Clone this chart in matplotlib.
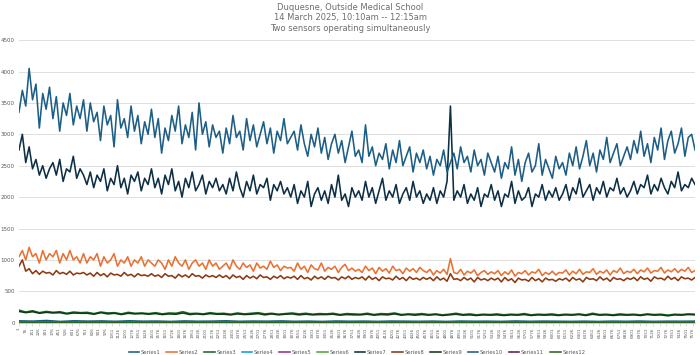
import numpy as np
import matplotlib
matplotlib.use("Agg")
import matplotlib.pyplot as plt

# Chart data (sample index runs 1..7600)
N_SAMPLES = 7600
TITLE = "Duquesne, Outside Medical School\n14 March 2025, 10:10am -- 12:15am\nTwo sensors operating simultaneously"

series10 = [
    3350, 3700, 3450, 4050, 3550, 3800, 3100, 3650, 3400, 3750, 3250, 3600, 3050, 3500, 3300, 3650, 3150, 3450, 3250, 3550,
    3050, 3500, 3200, 3350, 2900, 3450, 3150, 3300, 2800, 3550, 3100, 3250, 2950, 3450, 3050, 3300, 2850, 3200, 3000, 3400,
    2950, 3250, 2700, 3100, 2900, 3300, 3050, 3450, 2850, 3150, 2950, 3350, 2750, 3500, 3000, 3200, 2800, 3150, 2950, 3050,
    2700, 3100, 2850, 3300, 2950, 3050, 2750, 3250, 2900, 3150, 2800, 3000, 3200, 2850, 3100, 2700, 3050, 2900, 3250, 2850,
    2950, 3050, 2750, 3150, 2850, 2650, 3000, 2800, 3100, 2700, 2950, 2600, 2850, 3000, 2700, 2900, 2550, 2800, 3050, 2650,
    2750, 2550, 3150, 2650, 2800, 2500, 2700, 2600, 2850, 2450, 2750, 2550, 2900, 2500, 2650, 2800, 2400, 2700, 2550, 2750,
    2450, 2650, 2350, 2600, 2500, 2750, 2400, 2550, 2700, 2450, 2800, 2550, 2650, 2400, 2750, 2500, 2600, 2350, 2700, 2550,
    2400, 2650, 2300, 2550, 2450, 2800, 2350, 2600, 2250, 2550, 2700, 2400, 2500, 2850, 2350, 2600, 2450, 2300, 2650, 2450,
    2550, 2350, 2700, 2500, 2800, 2450, 2650, 2900, 2500, 2700, 2400, 2750, 2600, 2950, 2550, 2700, 2850, 2500, 2650, 2800,
    2600, 2900, 2700, 3050, 2650, 2850, 2550, 2950, 2750, 3100, 2600, 2900, 3050, 2700, 2850, 3100, 2650, 2950, 3000, 2750,
]

series7 = [
    2750, 3000, 2550, 2800, 2450, 2600, 2350, 2500, 2300, 2450, 2550, 2350, 2600, 2250, 2450, 2400, 2650, 2300, 2450, 2350,
    2200, 2400, 2150, 2350, 2250, 2450, 2100, 2300, 2200, 2500, 2150, 2300, 2050, 2350, 2250, 2400, 2100, 2300, 2200, 2450,
    2150, 2300, 2050, 2350, 2200, 2450, 2100, 2250, 2000, 2300, 2150, 2400, 2100, 2200, 2350, 2050, 2250, 2150, 2300, 2100,
    2200, 2050, 2300, 2100, 2400, 2150, 2000, 2250, 2100, 2350, 2050, 2200, 2150, 2300, 1950, 2200, 2100, 2250, 2050, 2150,
    2000, 2200, 1900, 2100, 2000, 2250, 1850, 2050, 2150, 1950, 2100, 1900, 2200, 2000, 2350, 1950, 2050, 1850, 2150, 2000,
    2100, 1950, 2250, 2000, 2150, 1900, 2100, 2300, 1950, 2100, 2000, 2200, 1900, 2050, 2150, 1950, 2250, 2000, 2100, 1900,
    2050, 1950, 2150, 1900, 2100, 2000, 2250, 3450, 1950, 2100, 2000, 2200, 1900, 2050, 1950, 2150, 1850, 2050, 2000, 2200,
    1950, 2100, 1850, 2050, 2000, 2250, 1900, 2100, 1950, 2000, 2150, 1850, 2050, 2000, 2200, 1950, 2100, 2000, 2150, 1950,
    2050, 2200, 1950, 2150, 2050, 2300, 2000, 2100, 2200, 1950, 2150, 2050, 2250, 2000, 2150, 2100, 2300, 2050, 2150, 2000,
    2100, 2250, 2050, 2200, 2150, 2350, 2050, 2200, 2100, 2300, 2150, 2050, 2250, 2150, 2400, 2100, 2200, 2150, 2300, 2200,
]

series2 = [
    1050, 1150, 1000, 1200, 1050, 1100, 950, 1150, 1000, 1100, 1050, 1150, 950, 1100, 1000, 1150, 1000, 1050, 950, 1100,
    950, 1050, 1000, 1100, 900, 1050, 950, 1000, 1100, 900, 1000, 950, 1050, 900, 1000, 950, 1050, 900, 1000, 950,
    900, 1000, 950, 850, 1000, 900, 1050, 950, 900, 1000, 850, 950, 1000, 900, 950, 850, 1000, 900, 950, 850,
    900, 950, 850, 1000, 900, 850, 950, 880, 920, 820, 950, 870, 900, 850, 980, 880, 920, 830, 900, 870,
    880, 820, 950, 850, 900, 800, 920, 860, 840, 950, 820, 880, 850, 900, 800, 880, 930, 830, 870, 820,
    850, 800, 900, 830, 870, 780, 880, 820, 860, 790, 900, 830, 850, 780, 870, 820, 860, 800, 880, 830,
    800, 850, 760, 830, 790, 850, 770, 1020, 800, 780, 850, 760, 820, 790, 840, 750, 800, 830, 770, 810,
    780, 830, 750, 810, 770, 840, 740, 800, 780, 830, 760, 810, 790, 850, 750, 800, 770, 820, 760, 800,
    790, 840, 760, 820, 780, 850, 770, 810, 800, 860, 770, 820, 790, 840, 760, 830, 800, 870, 780, 820,
    800, 850, 780, 840, 810, 870, 790, 830, 820, 880, 790, 840, 810, 860, 800, 850, 820, 880, 800, 830,
]

series8 = [
    900, 1000, 820, 860, 780, 830, 770, 820, 790, 800, 760, 830, 780, 800, 770, 820, 760, 790, 780, 800,
    760, 790, 740, 800, 750, 780, 730, 790, 760, 770, 740, 800, 750, 770, 730, 780, 750, 760, 740, 780,
    740, 760, 720, 780, 740, 750, 710, 770, 730, 760, 720, 780, 740, 750, 710, 760, 730, 750, 720, 760,
    720, 750, 700, 760, 720, 740, 690, 750, 710, 740, 700, 760, 720, 730, 690, 740, 710, 750, 700, 730,
    710, 740, 690, 750, 700, 720, 680, 740, 700, 730, 690, 740, 710, 720, 680, 730, 700, 740, 690, 720,
    700, 730, 680, 740, 690, 720, 670, 730, 700, 710, 680, 740, 690, 720, 670, 730, 690, 710, 680, 720,
    690, 720, 670, 730, 680, 710, 660, 780, 690, 700, 670, 720, 680, 710, 650, 720, 680, 700, 670, 710,
    680, 710, 650, 720, 670, 700, 640, 710, 680, 690, 660, 720, 670, 700, 650, 710, 680, 690, 660, 700,
    680, 710, 660, 720, 680, 700, 650, 720, 690, 700, 670, 730, 680, 710, 660, 720, 690, 700, 670, 710,
    690, 720, 670, 730, 690, 710, 660, 730, 700, 710, 680, 740, 690, 720, 670, 730, 700, 710, 680, 720,
]

series3 = [
    200, 170, 190, 160, 180, 165, 175, 150, 170, 160, 165, 145, 170, 155, 160, 140, 165, 150, 155, 145,
    160, 140, 155, 150, 175, 145, 150, 140, 160, 145, 150, 135, 155, 140, 150, 160, 140, 150, 135, 145,
    155, 140, 150, 135, 145, 140, 150, 130, 145, 140, 135, 150, 130, 145, 140, 155, 130, 140, 135, 145,
    130, 140, 125, 135, 150, 130, 140, 125, 135, 130, 140, 125, 135, 130, 145, 125, 135, 130, 140, 125,
    135, 130, 140, 125, 150, 130, 135, 125, 140, 130, 135, 125, 140, 130, 135, 120, 135, 130, 140, 135,
]

series9 = [
    180, 160, 175, 150, 165, 155, 160, 140, 155, 150, 150, 135, 160, 140, 150, 130, 150, 140, 145, 135,
    145, 130, 140, 135, 155, 130, 140, 130, 145, 135, 135, 125, 140, 130, 135, 145, 125, 140, 125, 135,
    140, 125, 135, 125, 130, 130, 135, 120, 130, 125, 125, 135, 120, 130, 125, 140, 120, 130, 120, 130,
    120, 130, 115, 125, 135, 120, 125, 115, 125, 120, 125, 115, 125, 120, 130, 115, 125, 120, 125, 115,
    125, 120, 130, 115, 135, 120, 125, 115, 125, 120, 125, 115, 130, 120, 125, 110, 125, 120, 130, 125,
]

series1 = [
    30, 25, 35, 20, 30, 25, 28, 22, 30, 24, 26, 20, 28, 23, 25, 30, 22, 26, 24, 28,
    22, 25, 20, 27, 23, 25, 21, 26, 24, 22, 25, 20, 26, 23, 24, 21, 27, 22, 25, 23,
    21, 24, 20, 25, 22, 26, 21, 24, 23, 25,
]

series4 = [
    12, 10, 14, 9, 12, 10, 11, 8, 12, 10, 11, 9, 12, 10, 11, 13, 9, 11, 10, 12,
    9, 11, 8, 12, 10, 11, 9, 12, 10, 9, 11, 8, 12, 10, 11, 9, 12, 10, 11, 10,
    9, 11, 8, 12, 10, 11, 9, 10, 11, 10,
]

series5 = [2, 3, 2, 2, 3, 2, 2, 3, 2, 2]
series6 = [4, 5, 4, 4, 5, 4, 4, 5, 4, 4]
series11 = [2, 3, 2, 2, 3, 2, 2, 3, 2, 2]
series12 = [4, 5, 4, 4, 5, 4, 4, 5, 4, 4]

names = ["Series%d" % i for i in range(1, 13)]
values = [series1, series2, series3, series4, series5, series6,
          series7, series8, series9, series10, series11, series12]
colors = ["#156082", "#E97132", "#196B24", "#0F9ED5", "#A02B93", "#4EA72E",
          "#0D2F45", "#8C3A12", "#0F3A14", "#1D5E86", "#601A58", "#2F641C"]

fig = plt.figure(figsize=(7, 3.55), dpi=100)
ax = fig.add_axes([0.027, 0.091, 0.966, 0.796])

for i in range(12):
    v = values[i]
    x = np.linspace(1, N_SAMPLES, len(v))
    ax.plot(x, v, color=colors[i], lw=1.15, label=names[i])

ax.set_xlim(0.5, N_SAMPLES + 0.5)
ax.set_ylim(0, 4500)
ax.set_yticks(np.arange(0, 4501, 500))
ax.tick_params(axis="y", length=0, labelsize=4, labelcolor="#595959", pad=3)
xt = np.arange(1, N_SAMPLES + 1, 75)
ax.set_xticks(xt)
ax.set_xticklabels([str(t) for t in xt], rotation=90, fontsize=3, color="#595959")
ax.tick_params(axis="x", length=2, width=0.4, color="#BFBFBF", pad=1.5)
ax.grid(axis="y", color="#D9D9D9", lw=0.6)
ax.set_axisbelow(True)
for s in ["top", "right", "left"]:
    ax.spines[s].set_visible(False)
ax.spines["bottom"].set_color("#BFBFBF")
ax.spines["bottom"].set_linewidth(0.6)

fig.suptitle(TITLE, y=0.992, fontsize=6, color="#6E6E6E", linespacing=1.2)

leg = ax.legend(loc="upper center", bbox_to_anchor=(0.5, -0.08), ncol=12,
                frameon=False, fontsize=3.8, handlelength=2.0, columnspacing=1.1,
                handletextpad=0.3)
for t in leg.get_texts():
    t.set_color("#595959")

fig.savefig("out.png", dpi=100)
